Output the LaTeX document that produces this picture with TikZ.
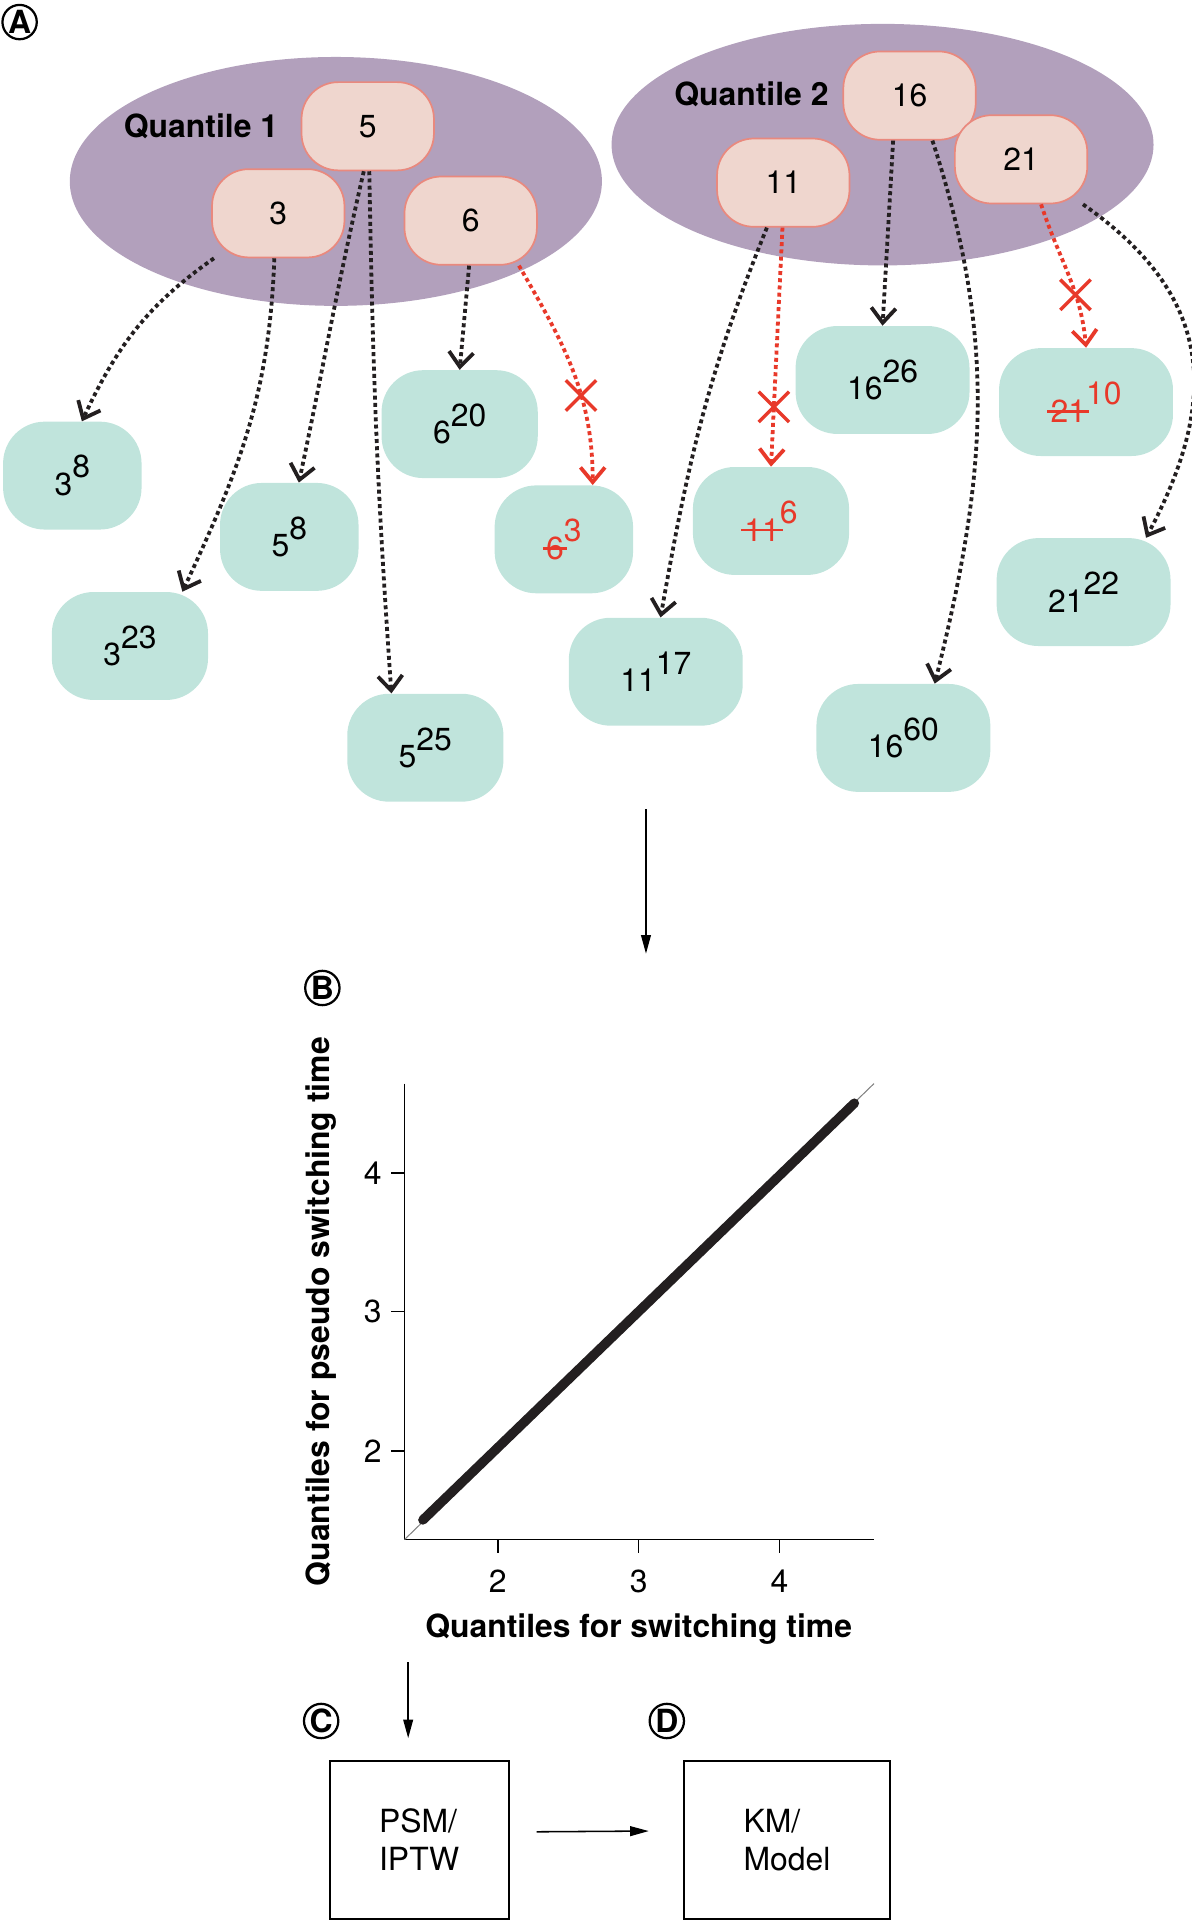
\documentclass[tikz,border=0pt]{standalone}
\usepackage{fontspec}
\setmainfont{TeX Gyre Heros}
\usepackage{tikz}
\usetikzlibrary{shapes.geometric,shapes.misc,arrows.meta}
\definecolor{ellfill}{HTML}{B2A0BC}
\definecolor{pinkfill}{HTML}{EFD6CE}
\definecolor{pinkdraw}{HTML}{E9897E}
\definecolor{tealfill}{HTML}{C0E4DC}
\definecolor{redc}{HTML}{E8392A}
\definecolor{dotc}{HTML}{231F20}
\newcommand{\bigtxt}{\fontsize{18.5}{22}\selectfont}
\newcommand{\pw}[2]{#1\raisebox{.55em}{#2}}
\newcommand{\strk}[1]{\setbox0\hbox{#1}\rlap{\kern-.1em\rule[.3em]{\dimexpr\wd0+.2em\relax}{.07em}}#1}
\tikzset{
qell/.style={ellipse,fill=ellfill,inner sep=0pt},
qbox/.style={rectangle,rounded corners=0.75cm,draw=pinkdraw,line width=1pt,fill=pinkfill,
  minimum width=2.7cm,minimum height=1.8cm},
tbox/.style={rectangle,rounded corners=0.85cm,fill=tealfill,inner xsep=1.05cm,minimum height=2.2cm},
dotarr/.style={line width=2.2pt,dash pattern=on 2.3pt off 1.9pt,color=dotc,
  -{Straight Barb[length=0.3cm,width=0.5cm]}},
redarr/.style={dotarr,color=redc},
xmark/.style={cross out,draw=redc,line width=2pt,minimum size=0.55cm,inner sep=0pt,solid},
panel/.style={circle,draw,line width=1.3pt,minimum size=0.7cm,inner sep=0pt,font=\bigtxt\bfseries},
solarr/.style={line width=0.9pt,-{Triangle[length=0.38cm,width=0.2cm]}},
axisline/.style={line width=1pt},
qqline/.style={line width=5.5pt,line cap=round,color=dotc},
plainbox/.style={rectangle,draw,line width=1pt,align=left}
}
\begin{document}
\begin{tikzpicture}[x=0.025cm,y=-0.025cm,font=\bigtxt]
\useasboundingbox (0,0) rectangle (972,1568);
% panel A
\node[panel] (pa) at (16,18) {A};
\node[qell,minimum width=10.85cm,minimum height=5.075cm] (e1) at (274,148) {};
\node[qell,minimum width=11.05cm,minimum height=4.925cm] (e2) at (720,118) {};
\node[font=\bigtxt\bfseries] (ql1) at (164,103) {Quantile 1};
\node[font=\bigtxt\bfseries] (ql2) at (613,77) {Quantile 2};
\node[qbox] (n5) at (300,103) {5};
\node[qbox] (n3) at (227,174) {3};
\node[qbox] (n6) at (384,180) {6};
\node[qbox] (n16) at (742,78) {16};
\node[qbox] (n21) at (833,130) {21};
\node[qbox] (n11) at (639,149) {11};
\node[tbox] (b38) at (59,388) {\pw{3}{8}};
\node[tbox] (b58) at (236,438) {\pw{5}{8}};
\node[tbox] (b323) at (106,527) {\pw{3}{23}};
\node[tbox] (b525) at (347,610) {\pw{5}{25}};
\node[tbox] (b620) at (375,346) {\pw{6}{20}};
\node[tbox,text=redc] (b63) at (460,440) {\pw{\strk{6}}{3}};
\node[tbox] (b1117) at (535,548) {\pw{11}{17}};
\node[tbox,text=redc] (b116) at (629,425) {\pw{\strk{11}}{6}};
\node[tbox] (b1626) at (720,310) {\pw{16}{26}};
\node[tbox,text=redc] (b2110) at (886,328) {\pw{\strk{21}}{10}};
\node[tbox] (b2122) at (884,483) {\pw{21}{22}};
\node[tbox] (b1660) at (737,602) {\pw{16}{60}};
\draw[dotarr] (n3.-145) to[out=-145,in=65] (b38.80);
\draw[dotarr] (n3.-95) to[out=-92,in=65] (b323.46);
\draw[dotarr] (n5.-95) to[out=-103,in=78] (b58.80);
\draw[dotarr] (n5.-88) to[out=-89,in=94] (b525.122);
\draw[dotarr] (n6.-92) -- (b620.north);
\draw[redarr] (n6.-43) to[out=-60,in=90] node[xmark,pos=.62] (x6) {} (b63.62);
\draw[dotarr] (n11.-110) to[out=-112,in=80] (b1117.85);
\draw[redarr] (n11.-91) -- node[xmark,pos=.75] (x11) {} (b116.north);
\draw[dotarr] (n16.-110) -- (b1626.north);
\draw[dotarr] (n16.-63) to[out=-72,in=76] (b1660.60);
\draw[redarr] (n21.-66) to[out=-72,in=95] node[xmark,pos=.65] (x21) {} (b2110.north);
\draw[dotarr] (n21.-36) to[out=-35,in=62,looseness=1.2] (b2122.41);
\coordinate (ab1) at (527,660);
\coordinate (ab2) at (527,778);
\draw[solarr] (ab1) -- (ab2);
% panel B
\node[panel] (pb) at (263,806) {B};
\draw[axisline] (330,884) -- (330,1256) -- (713,1256);
\draw[gray,line width=0.6pt] (330,1256) -- (713,884);
\draw[qqline] (345,1240) -- (697,900);
\foreach \x/\t in {406/2,521/3,636/4}{
  \draw[axisline] (\x,1256) -- (\x,1267);
  \node (xl\t) at (\x,1290) {\t};
}
\foreach \y/\t in {1184/2,1070/3,957/4}{
  \draw[axisline] (330,\y) -- (319,\y);
  \node (yl\t) at (304,\y) {\t};
}
\node[font=\bigtxt\bfseries] (xtit) at (521,1329) {Quantiles for switching time};
\node[font=\bigtxt\bfseries,rotate=90] (ytit) at (262,1070) {Quantiles for pseudo switching time};
% panels C and D
\coordinate (bc1) at (333,1356);
\coordinate (bc2) at (333,1418);
\draw[solarr] (bc1) -- (bc2);
\node[panel] (pc) at (262,1404) {C};
\node[panel] (pd) at (544,1404) {D};
\node[plainbox,minimum width=3.65cm,minimum height=3.225cm] (psm) at (342,1501) {PSM/\\IPTW};
\node[plainbox,minimum width=4.2cm,minimum height=3.225cm] (km) at (642,1501) {KM/\\Model};
\draw[solarr,shorten <=0.55cm,shorten >=0.7cm] (psm.5) -- (km.175);
\end{tikzpicture}
\end{document}
